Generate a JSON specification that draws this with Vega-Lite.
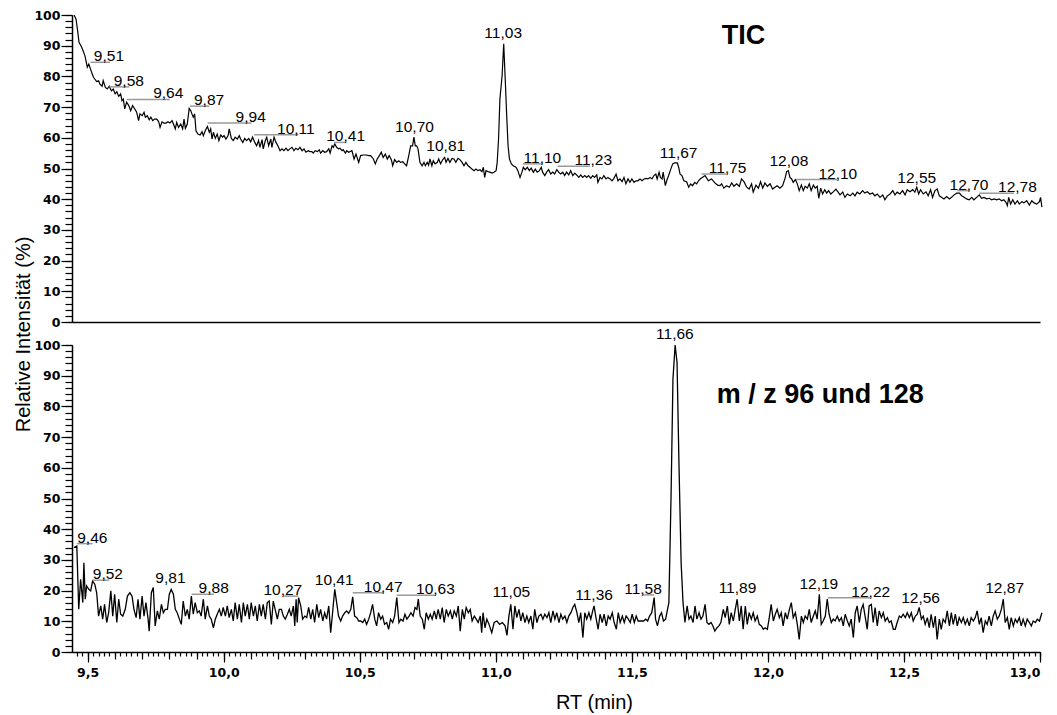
{
"$schema": "https://vega.github.io/schema/vega-lite/v6.json",
"background": "white",
"padding": {"left": 12, "top": 9, "right": 5, "bottom": 3},
"config": {
  "view": {"stroke": null},
  "axis": {"grid": false, "domainColor": "#000", "tickColor": "#000", "labelColor": "#000", "domainWidth": 1.5, "tickWidth": 1.2, "labelFont": "DejaVu Sans", "labelFontSize": 12.5, "labelFontWeight": "bold"}
},
"datasets": {
"tic": [
{"rt":9.4497,"int":100},{"rt":9.457,"int":98.7},{"rt":9.463,"int":94.9},{"rt":9.468,"int":91.1},{"rt":9.478,"int":89.5},{"rt":9.49,"int":86.7},{"rt":9.4985,"int":83.0},{"rt":9.504,"int":84.0},{"rt":9.511,"int":82.2},{"rt":9.521,"int":79.7},{"rt":9.533,"int":78.3},{"rt":9.54,"int":78.6},{"rt":9.545,"int":77.5},{"rt":9.553,"int":76.8},{"rt":9.557,"int":78.6},{"rt":9.565,"int":76.4},{"rt":9.572,"int":75.9},{"rt":9.579,"int":76.8},{"rt":9.587,"int":75.3},{"rt":9.594,"int":75.9},{"rt":9.601,"int":74.3},{"rt":9.607,"int":75.0},{"rt":9.614,"int":73.5},{"rt":9.621,"int":74.3},{"rt":9.626,"int":72.1},{"rt":9.631,"int":72.6},{"rt":9.636,"int":69.4},{"rt":9.643,"int":71.6},{"rt":9.651,"int":70.5},{"rt":9.658,"int":68.8},{"rt":9.665,"int":70.5},{"rt":9.673,"int":69.4},{"rt":9.68,"int":68.3},{"rt":9.687,"int":65.6},{"rt":9.692,"int":67.8},{"rt":9.7,"int":67.2},{"rt":9.707,"int":68.3},{"rt":9.712,"int":66.7},{"rt":9.719,"int":67.2},{"rt":9.726,"int":65.9},{"rt":9.732,"int":66.7},{"rt":9.739,"int":65.6},{"rt":9.746,"int":66.1},{"rt":9.754,"int":66.1},{"rt":9.761,"int":65.2},{"rt":9.766,"int":63.4},{"rt":9.773,"int":65.2},{"rt":9.78,"int":64.8},{"rt":9.788,"int":64.8},{"rt":9.795,"int":65.2},{"rt":9.802,"int":64.8},{"rt":9.81,"int":65.6},{"rt":9.815,"int":64.5},{"rt":9.822,"int":62.9},{"rt":9.827,"int":65.0},{"rt":9.834,"int":63.4},{"rt":9.842,"int":64.5},{"rt":9.849,"int":62.9},{"rt":9.854,"int":66.1},{"rt":9.859,"int":63.1},{"rt":9.866,"int":64.5},{"rt":9.873,"int":69.6},{"rt":9.879,"int":68.8},{"rt":9.883,"int":67.8},{"rt":9.888,"int":66.7},{"rt":9.893,"int":67.8},{"rt":9.898,"int":62.3},{"rt":9.905,"int":61.2},{"rt":9.913,"int":60.9},{"rt":9.92,"int":62.0},{"rt":9.925,"int":60.7},{"rt":9.932,"int":62.3},{"rt":9.94,"int":63.7},{"rt":9.947,"int":61.8},{"rt":9.952,"int":62.9},{"rt":9.957,"int":59.6},{"rt":9.962,"int":61.8},{"rt":9.969,"int":59.8},{"rt":9.976,"int":61.2},{"rt":9.982,"int":59.1},{"rt":9.989,"int":60.9},{"rt":9.996,"int":60.2},{"rt":10.001,"int":60.7},{"rt":10.008,"int":59.6},{"rt":10.016,"int":60.7},{"rt":10.02,"int":62.9},{"rt":10.028,"int":59.8},{"rt":10.035,"int":59.1},{"rt":10.042,"int":60.2},{"rt":10.05,"int":59.6},{"rt":10.057,"int":60.7},{"rt":10.062,"int":59.6},{"rt":10.07,"int":58.5},{"rt":10.077,"int":59.8},{"rt":10.084,"int":59.1},{"rt":10.092,"int":59.8},{"rt":10.099,"int":58.7},{"rt":10.106,"int":60.2},{"rt":10.114,"int":58.5},{"rt":10.121,"int":57.4},{"rt":10.128,"int":59.1},{"rt":10.133,"int":56.9},{"rt":10.141,"int":59.4},{"rt":10.145,"int":56.4},{"rt":10.153,"int":59.1},{"rt":10.158,"int":60.2},{"rt":10.165,"int":57.4},{"rt":10.173,"int":59.6},{"rt":10.177,"int":56.9},{"rt":10.185,"int":60.2},{"rt":10.192,"int":58.5},{"rt":10.199,"int":57.4},{"rt":10.207,"int":55.8},{"rt":10.214,"int":56.4},{"rt":10.221,"int":55.8},{"rt":10.229,"int":56.6},{"rt":10.236,"int":55.8},{"rt":10.243,"int":56.4},{"rt":10.251,"int":56.9},{"rt":10.258,"int":55.8},{"rt":10.265,"int":56.6},{"rt":10.273,"int":56.1},{"rt":10.28,"int":56.9},{"rt":10.288,"int":55.8},{"rt":10.295,"int":56.4},{"rt":10.302,"int":55.3},{"rt":10.31,"int":55.8},{"rt":10.317,"int":55.5},{"rt":10.324,"int":55.5},{"rt":10.329,"int":55.0},{"rt":10.336,"int":55.8},{"rt":10.344,"int":55.5},{"rt":10.351,"int":56.1},{"rt":10.356,"int":55.0},{"rt":10.364,"int":55.8},{"rt":10.371,"int":55.3},{"rt":10.378,"int":55.5},{"rt":10.386,"int":56.4},{"rt":10.391,"int":55.0},{"rt":10.398,"int":57.4},{"rt":10.403,"int":56.9},{"rt":10.408,"int":58.0},{"rt":10.415,"int":56.9},{"rt":10.422,"int":56.4},{"rt":10.427,"int":56.6},{"rt":10.435,"int":55.8},{"rt":10.439,"int":56.1},{"rt":10.447,"int":55.0},{"rt":10.452,"int":55.8},{"rt":10.459,"int":55.3},{"rt":10.471,"int":55.8},{"rt":10.479,"int":53.1},{"rt":10.486,"int":54.7},{"rt":10.496,"int":52.0},{"rt":10.503,"int":54.2},{"rt":10.513,"int":54.4},{"rt":10.523,"int":54.4},{"rt":10.533,"int":54.2},{"rt":10.54,"int":54.2},{"rt":10.55,"int":53.1},{"rt":10.557,"int":51.5},{"rt":10.564,"int":53.1},{"rt":10.572,"int":54.2},{"rt":10.579,"int":55.3},{"rt":10.586,"int":53.6},{"rt":10.594,"int":54.7},{"rt":10.601,"int":53.1},{"rt":10.608,"int":54.2},{"rt":10.616,"int":52.9},{"rt":10.621,"int":50.9},{"rt":10.628,"int":52.9},{"rt":10.636,"int":52.0},{"rt":10.643,"int":52.5},{"rt":10.65,"int":52.0},{"rt":10.658,"int":52.2},{"rt":10.665,"int":51.5},{"rt":10.672,"int":50.9},{"rt":10.68,"int":54.2},{"rt":10.687,"int":57.4},{"rt":10.694,"int":57.4},{"rt":10.699,"int":60.2},{"rt":10.704,"int":57.4},{"rt":10.709,"int":57.4},{"rt":10.714,"int":56.4},{"rt":10.721,"int":52.0},{"rt":10.729,"int":50.9},{"rt":10.736,"int":52.0},{"rt":10.741,"int":50.9},{"rt":10.748,"int":52.0},{"rt":10.753,"int":51.1},{"rt":10.758,"int":53.1},{"rt":10.765,"int":50.9},{"rt":10.77,"int":52.5},{"rt":10.777,"int":51.5},{"rt":10.785,"int":52.0},{"rt":10.79,"int":53.1},{"rt":10.797,"int":51.5},{"rt":10.805,"int":52.9},{"rt":10.812,"int":53.6},{"rt":10.817,"int":52.0},{"rt":10.824,"int":53.3},{"rt":10.831,"int":52.0},{"rt":10.839,"int":53.3},{"rt":10.846,"int":53.1},{"rt":10.853,"int":52.0},{"rt":10.861,"int":53.3},{"rt":10.868,"int":52.9},{"rt":10.876,"int":52.0},{"rt":10.883,"int":50.9},{"rt":10.89,"int":52.0},{"rt":10.898,"int":50.9},{"rt":10.905,"int":50.4},{"rt":10.912,"int":49.8},{"rt":10.92,"int":49.3},{"rt":10.927,"int":49.8},{"rt":10.934,"int":49.3},{"rt":10.942,"int":49.6},{"rt":10.949,"int":49.0},{"rt":10.954,"int":50.4},{"rt":10.959,"int":47.1},{"rt":10.964,"int":49.3},{"rt":10.971,"int":49.0},{"rt":10.978,"int":48.8},{"rt":10.986,"int":48.5},{"rt":10.993,"int":48.8},{"rt":11.001,"int":49.3},{"rt":11.005,"int":52.0},{"rt":11.01,"int":59.6},{"rt":11.015,"int":72.6},{"rt":11.023,"int":80.2},{"rt":11.029,"int":90.6},{"rt":11.035,"int":78.1},{"rt":11.04,"int":67.2},{"rt":11.045,"int":57.4},{"rt":11.05,"int":53.1},{"rt":11.057,"int":51.5},{"rt":11.064,"int":50.9},{"rt":11.074,"int":50.4},{"rt":11.081,"int":49.3},{"rt":11.089,"int":47.1},{"rt":11.096,"int":48.8},{"rt":11.101,"int":50.4},{"rt":11.108,"int":49.6},{"rt":11.116,"int":50.4},{"rt":11.123,"int":49.3},{"rt":11.13,"int":50.1},{"rt":11.138,"int":48.8},{"rt":11.145,"int":49.8},{"rt":11.152,"int":48.8},{"rt":11.16,"int":49.3},{"rt":11.167,"int":50.4},{"rt":11.172,"int":48.8},{"rt":11.18,"int":47.7},{"rt":11.187,"int":48.8},{"rt":11.194,"int":49.6},{"rt":11.202,"int":48.2},{"rt":11.209,"int":48.8},{"rt":11.216,"int":48.2},{"rt":11.224,"int":49.6},{"rt":11.231,"int":48.8},{"rt":11.238,"int":48.2},{"rt":11.246,"int":48.8},{"rt":11.253,"int":47.7},{"rt":11.26,"int":48.8},{"rt":11.268,"int":47.9},{"rt":11.275,"int":49.3},{"rt":11.283,"int":47.7},{"rt":11.29,"int":48.5},{"rt":11.297,"int":47.9},{"rt":11.305,"int":47.1},{"rt":11.312,"int":47.9},{"rt":11.319,"int":47.1},{"rt":11.327,"int":47.7},{"rt":11.334,"int":47.1},{"rt":11.341,"int":47.7},{"rt":11.349,"int":46.8},{"rt":11.356,"int":47.7},{"rt":11.363,"int":47.1},{"rt":11.371,"int":47.9},{"rt":11.375,"int":45.5},{"rt":11.383,"int":47.1},{"rt":11.39,"int":46.6},{"rt":11.397,"int":47.7},{"rt":11.405,"int":46.6},{"rt":11.412,"int":47.1},{"rt":11.42,"int":46.6},{"rt":11.427,"int":46.0},{"rt":11.434,"int":46.8},{"rt":11.442,"int":48.2},{"rt":11.449,"int":46.0},{"rt":11.456,"int":46.6},{"rt":11.464,"int":45.7},{"rt":11.471,"int":47.1},{"rt":11.478,"int":45.0},{"rt":11.486,"int":46.6},{"rt":11.493,"int":45.5},{"rt":11.5,"int":46.6},{"rt":11.508,"int":45.5},{"rt":11.515,"int":46.0},{"rt":11.522,"int":46.0},{"rt":11.53,"int":46.6},{"rt":11.537,"int":46.0},{"rt":11.545,"int":46.6},{"rt":11.552,"int":46.8},{"rt":11.559,"int":46.6},{"rt":11.567,"int":47.1},{"rt":11.574,"int":46.6},{"rt":11.581,"int":47.7},{"rt":11.588,"int":48.2},{"rt":11.593,"int":46.6},{"rt":11.6,"int":48.8},{"rt":11.605,"int":47.1},{"rt":11.611,"int":46.6},{"rt":11.615,"int":48.8},{"rt":11.623,"int":44.4},{"rt":11.628,"int":46.0},{"rt":11.635,"int":47.7},{"rt":11.643,"int":49.8},{"rt":11.65,"int":51.5},{"rt":11.657,"int":51.8},{"rt":11.667,"int":51.8},{"rt":11.672,"int":50.4},{"rt":11.677,"int":48.2},{"rt":11.684,"int":47.7},{"rt":11.691,"int":46.0},{"rt":11.701,"int":45.7},{"rt":11.709,"int":43.9},{"rt":11.716,"int":45.0},{"rt":11.723,"int":44.4},{"rt":11.731,"int":45.5},{"rt":11.738,"int":45.0},{"rt":11.745,"int":46.0},{"rt":11.751,"int":46.6},{"rt":11.769,"int":47.7},{"rt":11.781,"int":46.0},{"rt":11.793,"int":46.6},{"rt":11.805,"int":45.3},{"rt":11.815,"int":44.6},{"rt":11.824,"int":44.4},{"rt":11.83,"int":45.0},{"rt":11.838,"int":43.6},{"rt":11.848,"int":44.4},{"rt":11.858,"int":43.9},{"rt":11.867,"int":45.3},{"rt":11.875,"int":44.2},{"rt":11.885,"int":45.0},{"rt":11.895,"int":44.2},{"rt":11.903,"int":46.6},{"rt":11.912,"int":45.7},{"rt":11.922,"int":43.9},{"rt":11.931,"int":43.3},{"rt":11.94,"int":45.0},{"rt":11.946,"int":42.3},{"rt":11.956,"int":44.6},{"rt":11.965,"int":43.6},{"rt":11.973,"int":45.7},{"rt":11.981,"int":43.6},{"rt":11.989,"int":45.3},{"rt":11.998,"int":44.2},{"rt":12.008,"int":45.0},{"rt":12.017,"int":43.3},{"rt":12.026,"int":43.9},{"rt":12.034,"int":44.4},{"rt":12.044,"int":43.6},{"rt":12.054,"int":44.4},{"rt":12.063,"int":46.8},{"rt":12.069,"int":49.0},{"rt":12.075,"int":49.3},{"rt":12.081,"int":47.1},{"rt":12.087,"int":46.6},{"rt":12.093,"int":45.5},{"rt":12.101,"int":46.4},{"rt":12.108,"int":45.0},{"rt":12.115,"int":42.8},{"rt":12.123,"int":44.6},{"rt":12.13,"int":42.8},{"rt":12.137,"int":44.2},{"rt":12.145,"int":43.6},{"rt":12.152,"int":45.0},{"rt":12.159,"int":42.8},{"rt":12.167,"int":44.6},{"rt":12.174,"int":43.6},{"rt":12.181,"int":44.2},{"rt":12.187,"int":40.3},{"rt":12.194,"int":43.6},{"rt":12.201,"int":41.7},{"rt":12.209,"int":43.1},{"rt":12.216,"int":42.0},{"rt":12.223,"int":42.8},{"rt":12.231,"int":41.7},{"rt":12.24,"int":42.4},{"rt":12.25,"int":43.3},{"rt":12.258,"int":42.3},{"rt":12.265,"int":41.4},{"rt":12.275,"int":42.3},{"rt":12.283,"int":40.6},{"rt":12.292,"int":41.7},{"rt":12.302,"int":41.1},{"rt":12.312,"int":42.0},{"rt":12.32,"int":41.1},{"rt":12.328,"int":42.3},{"rt":12.338,"int":41.7},{"rt":12.348,"int":42.8},{"rt":12.356,"int":42.0},{"rt":12.365,"int":42.4},{"rt":12.375,"int":41.7},{"rt":12.385,"int":42.0},{"rt":12.393,"int":41.1},{"rt":12.402,"int":41.7},{"rt":12.412,"int":40.6},{"rt":12.422,"int":41.4},{"rt":12.43,"int":39.8},{"rt":12.439,"int":41.1},{"rt":12.449,"int":41.7},{"rt":12.459,"int":42.8},{"rt":12.467,"int":41.4},{"rt":12.475,"int":42.3},{"rt":12.485,"int":41.7},{"rt":12.495,"int":42.8},{"rt":12.504,"int":41.4},{"rt":12.512,"int":43.1},{"rt":12.522,"int":42.4},{"rt":12.532,"int":43.1},{"rt":12.54,"int":42.3},{"rt":12.547,"int":43.9},{"rt":12.554,"int":41.7},{"rt":12.561,"int":43.1},{"rt":12.571,"int":41.7},{"rt":12.581,"int":42.4},{"rt":12.589,"int":41.1},{"rt":12.598,"int":43.1},{"rt":12.605,"int":40.6},{"rt":12.614,"int":42.8},{"rt":12.622,"int":43.3},{"rt":12.63,"int":41.1},{"rt":12.638,"int":40.6},{"rt":12.647,"int":40.1},{"rt":12.657,"int":40.9},{"rt":12.667,"int":40.1},{"rt":12.675,"int":40.6},{"rt":12.684,"int":41.4},{"rt":12.694,"int":42.0},{"rt":12.704,"int":42.0},{"rt":12.712,"int":41.1},{"rt":12.721,"int":40.6},{"rt":12.73,"int":40.1},{"rt":12.74,"int":39.8},{"rt":12.749,"int":40.6},{"rt":12.757,"int":39.8},{"rt":12.767,"int":40.6},{"rt":12.777,"int":41.4},{"rt":12.785,"int":40.3},{"rt":12.794,"int":40.6},{"rt":12.804,"int":40.1},{"rt":12.814,"int":40.3},{"rt":12.822,"int":39.8},{"rt":12.831,"int":40.1},{"rt":12.841,"int":39.8},{"rt":12.85,"int":40.1},{"rt":12.859,"int":39.5},{"rt":12.867,"int":39.8},{"rt":12.875,"int":39.0},{"rt":12.88,"int":37.9},{"rt":12.885,"int":40.6},{"rt":12.892,"int":38.4},{"rt":12.9,"int":39.8},{"rt":12.908,"int":38.4},{"rt":12.917,"int":39.5},{"rt":12.924,"int":38.4},{"rt":12.933,"int":39.2},{"rt":12.941,"int":38.8},{"rt":12.951,"int":39.5},{"rt":12.961,"int":38.1},{"rt":12.97,"int":39.5},{"rt":12.978,"int":38.8},{"rt":12.988,"int":38.4},{"rt":12.998,"int":39.2},{"rt":13.002,"int":40.6},{"rt":13.007,"int":37.4}
],
"mz": [
{"rt":9.4497,"int":34.0},{"rt":9.46,"int":34.5},{"rt":9.467,"int":13.9},{"rt":9.474,"int":23.7},{"rt":9.482,"int":16.1},{"rt":9.486,"int":29.1},{"rt":9.491,"int":17.2},{"rt":9.496,"int":21.5},{"rt":9.504,"int":20.4},{"rt":9.511,"int":19.9},{"rt":9.518,"int":23.1},{"rt":9.526,"int":22.1},{"rt":9.533,"int":19.3},{"rt":9.54,"int":11.7},{"rt":9.548,"int":15.0},{"rt":9.555,"int":10.7},{"rt":9.562,"int":15.5},{"rt":9.57,"int":9.6},{"rt":9.577,"int":12.8},{"rt":9.585,"int":19.9},{"rt":9.592,"int":11.7},{"rt":9.599,"int":18.8},{"rt":9.607,"int":9.6},{"rt":9.614,"int":17.2},{"rt":9.621,"int":12.3},{"rt":9.629,"int":11.7},{"rt":9.638,"int":13.9},{"rt":9.646,"int":18.2},{"rt":9.655,"int":19.3},{"rt":9.663,"int":18.2},{"rt":9.67,"int":13.9},{"rt":9.678,"int":11.2},{"rt":9.685,"int":17.2},{"rt":9.692,"int":10.7},{"rt":9.7,"int":18.2},{"rt":9.707,"int":11.7},{"rt":9.714,"int":16.1},{"rt":9.722,"int":10.7},{"rt":9.726,"int":6.8},{"rt":9.734,"int":19.3},{"rt":9.741,"int":21.0},{"rt":9.748,"int":8.5},{"rt":9.756,"int":13.4},{"rt":9.763,"int":10.7},{"rt":9.771,"int":15.5},{"rt":9.778,"int":12.8},{"rt":9.785,"int":13.9},{"rt":9.793,"int":13.9},{"rt":9.8,"int":18.8},{"rt":9.807,"int":20.4},{"rt":9.815,"int":18.8},{"rt":9.822,"int":13.9},{"rt":9.829,"int":12.8},{"rt":9.837,"int":10.7},{"rt":9.844,"int":9.0},{"rt":9.851,"int":16.6},{"rt":9.859,"int":11.7},{"rt":9.866,"int":13.9},{"rt":9.873,"int":10.7},{"rt":9.881,"int":18.2},{"rt":9.888,"int":12.3},{"rt":9.895,"int":16.1},{"rt":9.903,"int":12.8},{"rt":9.91,"int":13.4},{"rt":9.917,"int":11.7},{"rt":9.925,"int":17.2},{"rt":9.932,"int":10.7},{"rt":9.94,"int":15.0},{"rt":9.947,"int":11.7},{"rt":9.954,"int":10.7},{"rt":9.962,"int":7.9},{"rt":9.969,"int":10.7},{"rt":9.976,"int":12.3},{"rt":9.984,"int":13.9},{"rt":9.991,"int":11.7},{"rt":9.998,"int":14.5},{"rt":10.006,"int":11.7},{"rt":10.013,"int":15.0},{"rt":10.02,"int":11.2},{"rt":10.028,"int":13.9},{"rt":10.035,"int":10.1},{"rt":10.042,"int":16.1},{"rt":10.05,"int":10.7},{"rt":10.057,"int":15.5},{"rt":10.065,"int":9.6},{"rt":10.072,"int":16.1},{"rt":10.079,"int":11.7},{"rt":10.087,"int":15.5},{"rt":10.094,"int":10.7},{"rt":10.101,"int":16.1},{"rt":10.109,"int":11.7},{"rt":10.116,"int":15.0},{"rt":10.123,"int":10.1},{"rt":10.131,"int":15.5},{"rt":10.138,"int":11.7},{"rt":10.145,"int":15.5},{"rt":10.153,"int":10.7},{"rt":10.16,"int":16.1},{"rt":10.167,"int":16.6},{"rt":10.175,"int":9.0},{"rt":10.182,"int":16.6},{"rt":10.189,"int":13.9},{"rt":10.197,"int":10.7},{"rt":10.204,"int":13.9},{"rt":10.212,"int":13.9},{"rt":10.219,"int":11.7},{"rt":10.226,"int":10.7},{"rt":10.234,"int":12.3},{"rt":10.241,"int":13.9},{"rt":10.248,"int":11.7},{"rt":10.256,"int":15.0},{"rt":10.261,"int":8.5},{"rt":10.266,"int":17.2},{"rt":10.27,"int":9.6},{"rt":10.275,"int":17.7},{"rt":10.283,"int":15.0},{"rt":10.29,"int":10.7},{"rt":10.298,"int":11.7},{"rt":10.305,"int":11.2},{"rt":10.312,"int":14.5},{"rt":10.32,"int":10.7},{"rt":10.327,"int":13.9},{"rt":10.334,"int":9.6},{"rt":10.342,"int":15.5},{"rt":10.349,"int":11.2},{"rt":10.356,"int":13.9},{"rt":10.364,"int":10.1},{"rt":10.371,"int":12.8},{"rt":10.378,"int":10.7},{"rt":10.386,"int":15.0},{"rt":10.393,"int":6.3},{"rt":10.4,"int":12.8},{"rt":10.408,"int":20.4},{"rt":10.415,"int":16.1},{"rt":10.422,"int":11.7},{"rt":10.43,"int":10.1},{"rt":10.437,"int":11.7},{"rt":10.445,"int":12.8},{"rt":10.452,"int":13.4},{"rt":10.459,"int":12.6},{"rt":10.467,"int":13.9},{"rt":10.474,"int":18.0},{"rt":10.481,"int":11.7},{"rt":10.489,"int":11.2},{"rt":10.496,"int":10.1},{"rt":10.503,"int":10.1},{"rt":10.511,"int":9.6},{"rt":10.518,"int":10.7},{"rt":10.525,"int":9.0},{"rt":10.533,"int":10.7},{"rt":10.54,"int":12.8},{"rt":10.547,"int":15.5},{"rt":10.555,"int":10.7},{"rt":10.562,"int":8.5},{"rt":10.569,"int":12.8},{"rt":10.577,"int":10.7},{"rt":10.584,"int":11.7},{"rt":10.591,"int":9.0},{"rt":10.599,"int":9.6},{"rt":10.606,"int":7.4},{"rt":10.613,"int":10.7},{"rt":10.621,"int":9.6},{"rt":10.628,"int":11.7},{"rt":10.636,"int":17.7},{"rt":10.644,"int":9.6},{"rt":10.651,"int":10.7},{"rt":10.659,"int":10.1},{"rt":10.666,"int":12.3},{"rt":10.673,"int":10.7},{"rt":10.681,"int":11.7},{"rt":10.688,"int":12.8},{"rt":10.696,"int":11.7},{"rt":10.703,"int":14.5},{"rt":10.71,"int":13.9},{"rt":10.715,"int":17.2},{"rt":10.722,"int":11.7},{"rt":10.73,"int":10.7},{"rt":10.737,"int":7.4},{"rt":10.744,"int":12.8},{"rt":10.752,"int":10.7},{"rt":10.759,"int":12.3},{"rt":10.766,"int":10.7},{"rt":10.774,"int":13.4},{"rt":10.781,"int":10.7},{"rt":10.788,"int":13.9},{"rt":10.796,"int":10.7},{"rt":10.803,"int":14.5},{"rt":10.81,"int":9.6},{"rt":10.818,"int":13.9},{"rt":10.825,"int":11.7},{"rt":10.833,"int":13.4},{"rt":10.84,"int":10.7},{"rt":10.847,"int":13.4},{"rt":10.855,"int":11.7},{"rt":10.862,"int":15.0},{"rt":10.869,"int":6.8},{"rt":10.877,"int":13.9},{"rt":10.884,"int":10.7},{"rt":10.891,"int":14.5},{"rt":10.899,"int":12.8},{"rt":10.906,"int":13.9},{"rt":10.913,"int":10.1},{"rt":10.921,"int":11.7},{"rt":10.928,"int":10.7},{"rt":10.935,"int":9.6},{"rt":10.943,"int":11.7},{"rt":10.948,"int":6.3},{"rt":10.953,"int":12.8},{"rt":10.96,"int":7.9},{"rt":10.967,"int":10.7},{"rt":10.975,"int":9.0},{"rt":10.985,"int":6.3},{"rt":10.994,"int":9.6},{"rt":11.004,"int":10.1},{"rt":11.014,"int":9.0},{"rt":11.024,"int":9.6},{"rt":11.034,"int":8.5},{"rt":11.041,"int":5.4},{"rt":11.048,"int":11.7},{"rt":11.055,"int":15.5},{"rt":11.063,"int":7.4},{"rt":11.07,"int":15.0},{"rt":11.077,"int":11.2},{"rt":11.085,"int":13.9},{"rt":11.092,"int":10.1},{"rt":11.099,"int":12.8},{"rt":11.107,"int":9.6},{"rt":11.114,"int":11.7},{"rt":11.121,"int":9.6},{"rt":11.129,"int":11.7},{"rt":11.136,"int":7.4},{"rt":11.143,"int":13.9},{"rt":11.151,"int":9.6},{"rt":11.158,"int":11.7},{"rt":11.166,"int":12.3},{"rt":11.173,"int":10.7},{"rt":11.18,"int":12.3},{"rt":11.188,"int":11.2},{"rt":11.195,"int":12.8},{"rt":11.202,"int":9.6},{"rt":11.21,"int":13.4},{"rt":11.217,"int":10.7},{"rt":11.224,"int":12.8},{"rt":11.232,"int":9.6},{"rt":11.239,"int":12.3},{"rt":11.246,"int":10.7},{"rt":11.254,"int":11.7},{"rt":11.261,"int":9.6},{"rt":11.268,"int":11.7},{"rt":11.276,"int":12.8},{"rt":11.283,"int":14.5},{"rt":11.29,"int":15.5},{"rt":11.298,"int":12.8},{"rt":11.305,"int":9.6},{"rt":11.312,"int":12.8},{"rt":11.32,"int":4.7},{"rt":11.327,"int":12.8},{"rt":11.334,"int":10.7},{"rt":11.342,"int":12.8},{"rt":11.349,"int":10.7},{"rt":11.356,"int":13.4},{"rt":11.361,"int":15.0},{"rt":11.368,"int":11.2},{"rt":11.376,"int":7.4},{"rt":11.383,"int":12.3},{"rt":11.391,"int":9.6},{"rt":11.398,"int":12.3},{"rt":11.406,"int":8.5},{"rt":11.413,"int":11.7},{"rt":11.42,"int":10.7},{"rt":11.428,"int":12.8},{"rt":11.435,"int":9.6},{"rt":11.443,"int":7.4},{"rt":11.45,"int":12.8},{"rt":11.457,"int":9.6},{"rt":11.465,"int":11.7},{"rt":11.472,"int":9.6},{"rt":11.479,"int":11.7},{"rt":11.487,"int":10.7},{"rt":11.494,"int":9.6},{"rt":11.501,"int":12.3},{"rt":11.509,"int":9.6},{"rt":11.516,"int":11.7},{"rt":11.523,"int":10.1},{"rt":11.533,"int":10.1},{"rt":11.543,"int":10.1},{"rt":11.551,"int":10.7},{"rt":11.558,"int":10.1},{"rt":11.565,"int":11.7},{"rt":11.573,"int":12.8},{"rt":11.582,"int":17.7},{"rt":11.587,"int":10.7},{"rt":11.594,"int":8.5},{"rt":11.602,"int":11.7},{"rt":11.609,"int":12.8},{"rt":11.616,"int":10.1},{"rt":11.624,"int":10.7},{"rt":11.631,"int":13.9},{"rt":11.636,"int":16.1},{"rt":11.644,"int":50.8},{"rt":11.651,"int":88.8},{"rt":11.659,"int":100},{"rt":11.666,"int":94.3},{"rt":11.673,"int":61.7},{"rt":11.681,"int":29.1},{"rt":11.688,"int":16.1},{"rt":11.695,"int":9.6},{"rt":11.703,"int":15.0},{"rt":11.71,"int":10.7},{"rt":11.717,"int":11.7},{"rt":11.725,"int":9.6},{"rt":11.732,"int":15.0},{"rt":11.739,"int":10.7},{"rt":11.747,"int":12.8},{"rt":11.754,"int":10.7},{"rt":11.761,"int":11.7},{"rt":11.769,"int":15.5},{"rt":11.776,"int":9.6},{"rt":11.783,"int":9.0},{"rt":11.791,"int":9.6},{"rt":11.798,"int":8.5},{"rt":11.805,"int":6.8},{"rt":11.813,"int":7.9},{"rt":11.82,"int":8.5},{"rt":11.827,"int":9.6},{"rt":11.836,"int":13.9},{"rt":11.843,"int":11.2},{"rt":11.851,"int":15.0},{"rt":11.858,"int":9.0},{"rt":11.865,"int":12.8},{"rt":11.873,"int":10.1},{"rt":11.88,"int":13.9},{"rt":11.887,"int":17.2},{"rt":11.895,"int":10.1},{"rt":11.902,"int":15.0},{"rt":11.909,"int":7.4},{"rt":11.917,"int":15.0},{"rt":11.924,"int":9.0},{"rt":11.931,"int":12.8},{"rt":11.939,"int":10.7},{"rt":11.946,"int":12.8},{"rt":11.953,"int":10.1},{"rt":11.961,"int":11.7},{"rt":11.968,"int":9.0},{"rt":11.976,"int":8.5},{"rt":11.983,"int":7.4},{"rt":11.99,"int":7.9},{"rt":11.998,"int":7.4},{"rt":12.005,"int":11.2},{"rt":12.012,"int":15.5},{"rt":12.02,"int":10.1},{"rt":12.027,"int":12.3},{"rt":12.034,"int":13.9},{"rt":12.042,"int":11.2},{"rt":12.049,"int":12.8},{"rt":12.056,"int":8.5},{"rt":12.064,"int":12.8},{"rt":12.071,"int":10.7},{"rt":12.079,"int":13.9},{"rt":12.086,"int":16.1},{"rt":12.093,"int":11.2},{"rt":12.101,"int":12.8},{"rt":12.108,"int":9.0},{"rt":12.115,"int":4.1},{"rt":12.123,"int":11.7},{"rt":12.13,"int":9.6},{"rt":12.137,"int":11.7},{"rt":12.145,"int":10.7},{"rt":12.152,"int":13.9},{"rt":12.159,"int":9.6},{"rt":12.167,"int":11.7},{"rt":12.174,"int":13.4},{"rt":12.181,"int":10.7},{"rt":12.189,"int":18.8},{"rt":12.196,"int":9.0},{"rt":12.203,"int":10.1},{"rt":12.211,"int":11.7},{"rt":12.218,"int":17.2},{"rt":12.225,"int":12.3},{"rt":12.233,"int":9.6},{"rt":12.24,"int":10.7},{"rt":12.247,"int":10.1},{"rt":12.255,"int":11.7},{"rt":12.262,"int":10.1},{"rt":12.27,"int":11.2},{"rt":12.277,"int":8.5},{"rt":12.284,"int":12.3},{"rt":12.292,"int":10.1},{"rt":12.299,"int":8.5},{"rt":12.306,"int":10.7},{"rt":12.314,"int":4.7},{"rt":12.321,"int":12.8},{"rt":12.328,"int":15.0},{"rt":12.336,"int":9.6},{"rt":12.343,"int":13.9},{"rt":12.35,"int":15.5},{"rt":12.358,"int":11.2},{"rt":12.365,"int":7.4},{"rt":12.372,"int":15.0},{"rt":12.38,"int":15.5},{"rt":12.387,"int":9.6},{"rt":12.394,"int":14.5},{"rt":12.402,"int":8.5},{"rt":12.409,"int":13.4},{"rt":12.417,"int":11.2},{"rt":12.424,"int":12.8},{"rt":12.431,"int":10.1},{"rt":12.439,"int":11.2},{"rt":12.446,"int":9.6},{"rt":12.453,"int":10.1},{"rt":12.461,"int":7.4},{"rt":12.468,"int":7.4},{"rt":12.475,"int":9.6},{"rt":12.483,"int":11.7},{"rt":12.49,"int":11.2},{"rt":12.497,"int":12.3},{"rt":12.505,"int":11.2},{"rt":12.512,"int":12.8},{"rt":12.52,"int":11.2},{"rt":12.527,"int":12.8},{"rt":12.534,"int":10.1},{"rt":12.542,"int":11.7},{"rt":12.549,"int":12.3},{"rt":12.556,"int":14.5},{"rt":12.564,"int":10.7},{"rt":12.571,"int":11.7},{"rt":12.578,"int":9.0},{"rt":12.586,"int":11.2},{"rt":12.593,"int":7.9},{"rt":12.6,"int":12.3},{"rt":12.608,"int":7.9},{"rt":12.615,"int":11.7},{"rt":12.622,"int":4.1},{"rt":12.63,"int":10.7},{"rt":12.637,"int":7.4},{"rt":12.644,"int":10.7},{"rt":12.652,"int":9.6},{"rt":12.659,"int":13.4},{"rt":12.667,"int":8.5},{"rt":12.674,"int":12.8},{"rt":12.681,"int":9.0},{"rt":12.689,"int":12.3},{"rt":12.696,"int":8.5},{"rt":12.703,"int":11.2},{"rt":12.711,"int":9.6},{"rt":12.718,"int":11.2},{"rt":12.725,"int":9.0},{"rt":12.733,"int":10.7},{"rt":12.74,"int":8.5},{"rt":12.747,"int":11.2},{"rt":12.755,"int":10.1},{"rt":12.762,"int":11.2},{"rt":12.769,"int":13.4},{"rt":12.777,"int":9.0},{"rt":12.784,"int":11.2},{"rt":12.791,"int":6.3},{"rt":12.799,"int":10.1},{"rt":12.806,"int":9.0},{"rt":12.813,"int":11.7},{"rt":12.821,"int":8.5},{"rt":12.828,"int":11.7},{"rt":12.835,"int":13.4},{"rt":12.843,"int":10.7},{"rt":12.85,"int":11.7},{"rt":12.858,"int":13.9},{"rt":12.865,"int":17.2},{"rt":12.872,"int":9.6},{"rt":12.88,"int":11.2},{"rt":12.887,"int":7.4},{"rt":12.894,"int":11.2},{"rt":12.902,"int":8.5},{"rt":12.909,"int":10.7},{"rt":12.916,"int":9.6},{"rt":12.924,"int":11.2},{"rt":12.931,"int":8.5},{"rt":12.938,"int":10.7},{"rt":12.946,"int":8.5},{"rt":12.953,"int":10.7},{"rt":12.961,"int":9.6},{"rt":12.968,"int":8.5},{"rt":12.975,"int":10.1},{"rt":12.983,"int":9.6},{"rt":12.99,"int":10.7},{"rt":12.998,"int":10.1},{"rt":13.007,"int":12.8}
],
"ticLabels": [
{"label":"9,51","lx":9.578,"ly":84.6},{"label":"9,58","lx":9.651,"ly":76.6},{"label":"9,64","lx":9.796,"ly":72.5},{"label":"9,87","lx":9.946,"ly":70.3},{"label":"9,94","lx":10.099,"ly":64.8},{"label":"10,11","lx":10.265,"ly":61.0},{"label":"10,41","lx":10.448,"ly":58.5},{"label":"10,70","lx":10.701,"ly":61.6},{"label":"10,81","lx":10.816,"ly":55.4},{"label":"11,03","lx":11.027,"ly":92.2},{"label":"11,10","lx":11.171,"ly":51.5},{"label":"11,23","lx":11.358,"ly":50.7},{"label":"11,67","lx":11.672,"ly":53.1},{"label":"11,75","lx":11.852,"ly":48.2},{"label":"12,08","lx":12.077,"ly":50.5},{"label":"12,10","lx":12.257,"ly":46.4},{"label":"12,55","lx":12.547,"ly":45.0},{"label":"12,70","lx":12.739,"ly":42.8},{"label":"12,78","lx":12.917,"ly":41.9}
],
"ticLines": [
{"x1":9.51,"x2":9.582,"y":84.6},{"x1":9.58,"x2":9.653,"y":76.6},{"x1":9.643,"x2":9.802,"y":72.5},{"x1":9.876,"x2":9.947,"y":70.3},{"x1":9.941,"x2":10.102,"y":64.8},{"x1":10.112,"x2":10.274,"y":61.0},{"x1":10.405,"x2":10.449,"y":58.5},{"x1":11.099,"x2":11.172,"y":51.5},{"x1":11.227,"x2":11.346,"y":50.7},{"x1":11.756,"x2":11.848,"y":48.2},{"x1":12.103,"x2":12.255,"y":46.4},{"x1":12.696,"x2":12.739,"y":42.8},{"x1":12.777,"x2":12.904,"y":41.9}
],
"mzLabels": [
{"label":"9,46","lx":9.517,"ly":35.3},{"label":"9,52","lx":9.574,"ly":23.4},{"label":"9,81","lx":9.804,"ly":22.0},{"label":"9,88","lx":9.963,"ly":18.8},{"label":"10,27","lx":10.217,"ly":18.2},{"label":"10,41","lx":10.406,"ly":21.5},{"label":"10,47","lx":10.586,"ly":19.3},{"label":"10,63","lx":10.778,"ly":18.5},{"label":"11,05","lx":11.057,"ly":17.5},{"label":"11,36","lx":11.361,"ly":16.6},{"label":"11,58","lx":11.541,"ly":18.6},{"label":"11,66","lx":11.658,"ly":101.5},{"label":"11,89","lx":11.888,"ly":18.8},{"label":"12,19","lx":12.187,"ly":20.2},{"label":"12,22","lx":12.378,"ly":17.7},{"label":"12,56","lx":12.561,"ly":15.5},{"label":"12,87","lx":12.87,"ly":18.8}
],
"mzLines": [
{"x1":9.46,"x2":9.518,"y":35.3},{"x1":9.518,"x2":9.579,"y":23.4},{"x1":9.882,"x2":9.964,"y":18.8},{"x1":10.219,"x2":10.274,"y":18.2},{"x1":10.474,"x2":10.586,"y":19.3},{"x1":10.636,"x2":10.777,"y":18.5},{"x1":11.541,"x2":11.582,"y":18.6},{"x1":12.22,"x2":12.375,"y":17.7}
]
},
"spacing": 23,
"bounds": "flush",
"vconcat": [
{
 "width": 968, "height": 307,
 "layer": [
  {"data": {"name": "tic"}, "mark": {"type": "line", "color": "#000", "strokeWidth": 1.2},
   "encoding": {
    "x": {"field": "rt", "type": "quantitative", "scale": {"domain": [9.4423, 13.0], "nice": false, "zero": false}, "axis": {"orient": "bottom", "title": null, "labels": false, "ticks": false}},
    "y": {"field": "int", "type": "quantitative", "scale": {"domain": [0, 100], "nice": false}, "axis": {"orient": "left", "title": null, "values": [0,10,20,30,40,50,60,70,80,90,100], "tickSize": 11, "labelPadding": 1}}}},
  {"data": {"name": "tic"}, "mark": {"type": "line", "opacity": 0},
   "encoding": {
    "x": {"field": "rt", "type": "quantitative", "axis": null},
    "y": {"field": "int", "type": "quantitative", "axis": {"orient": "left", "title": null, "labels": false, "domain": false, "tickCount": 50, "tickSize": 7}}}},
  {"data": {"name": "ticLines"}, "mark": {"type": "rule", "color": "#9a9a9a", "strokeWidth": 1.5},
   "encoding": {"x": {"field": "x1", "type": "quantitative", "axis": null}, "x2": {"field": "x2"}, "y": {"field": "y", "type": "quantitative", "axis": null}}},
  {"data": {"name": "ticLabels"}, "mark": {"type": "text", "font": "Liberation Sans", "fontSize": 15.5, "baseline": "alphabetic", "dy": -1, "color": "#000"},
   "encoding": {"x": {"field": "lx", "type": "quantitative", "axis": null}, "y": {"field": "ly", "type": "quantitative", "axis": null}, "text": {"field": "label"}}},
  {"data": {"values": [{"name": "TIC", "x": 11.83, "y": 90.6}]}, "mark": {"type": "text", "font": "Liberation Sans", "fontSize": 27, "fontWeight": "bold", "align": "left", "baseline": "alphabetic", "color": "#000"},
   "encoding": {"x": {"field": "x", "type": "quantitative", "axis": null}, "y": {"field": "y", "type": "quantitative", "axis": null}, "text": {"field": "name"}}}
 ],
 "resolve": {"axis": {"x": "independent", "y": "independent"}}
},
{
 "width": 968, "height": 307,
 "layer": [
  {"data": {"name": "mz"}, "mark": {"type": "line", "color": "#000", "strokeWidth": 1.3},
   "encoding": {
    "x": {"field": "rt", "type": "quantitative", "scale": {"domain": [9.4423, 13.0], "nice": false, "zero": false}, "axis": {"orient": "bottom", "title": "RT (min)", "values": [9.5,10,10.5,11,11.5,12,12.5,13], "labelExpr": "replace(format(datum.value, '.1f'), '.', ',')", "tickSize": 10, "labelPadding": 4, "titleX": 522, "titleY": 56, "titleAlign": "center", "titleBaseline": "alphabetic", "titleFont": "Liberation Sans", "titleFontSize": 20, "titleFontWeight": "normal", "titleColor": "#000"}},
    "y": {"field": "int", "type": "quantitative", "scale": {"domain": [0, 100], "nice": false}, "axis": {"orient": "left", "title": "Relative Intensität (%)", "values": [0,10,20,30,40,50,60,70,80,90,100], "tickSize": 11, "labelPadding": 1, "titleX": -43, "titleY": -11, "titleAngle": 270, "titleAlign": "center", "titleBaseline": "alphabetic", "titleFont": "Liberation Sans", "titleFontSize": 20, "titleFontWeight": "normal", "titleColor": "#000"}}}},
  {"data": {"name": "mz"}, "mark": {"type": "line", "opacity": 0},
   "encoding": {
    "x": {"field": "rt", "type": "quantitative", "axis": {"orient": "bottom", "title": null, "labels": false, "domain": false, "tickCount": 35, "tickSize": 7}},
    "y": {"field": "int", "type": "quantitative", "axis": {"orient": "left", "title": null, "labels": false, "domain": false, "tickCount": 50, "tickSize": 7}}}},
  {"data": {"name": "mz"}, "mark": {"type": "line", "opacity": 0},
   "encoding": {
    "x": {"field": "rt", "type": "quantitative", "axis": {"orient": "bottom", "title": null, "labels": false, "domain": false, "tickCount": 175, "tickSize": 4}},
    "y": {"field": "int", "type": "quantitative", "axis": null}}},
  {"data": {"name": "mzLines"}, "mark": {"type": "rule", "color": "#9a9a9a", "strokeWidth": 1.5},
   "encoding": {"x": {"field": "x1", "type": "quantitative", "axis": null}, "x2": {"field": "x2"}, "y": {"field": "y", "type": "quantitative", "axis": null}}},
  {"data": {"name": "mzLabels"}, "mark": {"type": "text", "font": "Liberation Sans", "fontSize": 15.5, "baseline": "alphabetic", "dy": -1, "color": "#000"},
   "encoding": {"x": {"field": "lx", "type": "quantitative", "axis": null}, "y": {"field": "ly", "type": "quantitative", "axis": null}, "text": {"field": "label"}}},
  {"data": {"values": [{"name": "m / z 96 und 128", "x": 11.812, "y": 81.0}]}, "mark": {"type": "text", "font": "Liberation Sans", "fontSize": 27, "fontWeight": "bold", "align": "left", "baseline": "alphabetic", "color": "#000"},
   "encoding": {"x": {"field": "x", "type": "quantitative", "axis": null}, "y": {"field": "y", "type": "quantitative", "axis": null}, "text": {"field": "name"}}}
 ],
 "resolve": {"axis": {"x": "independent", "y": "independent"}}
}
]
}
